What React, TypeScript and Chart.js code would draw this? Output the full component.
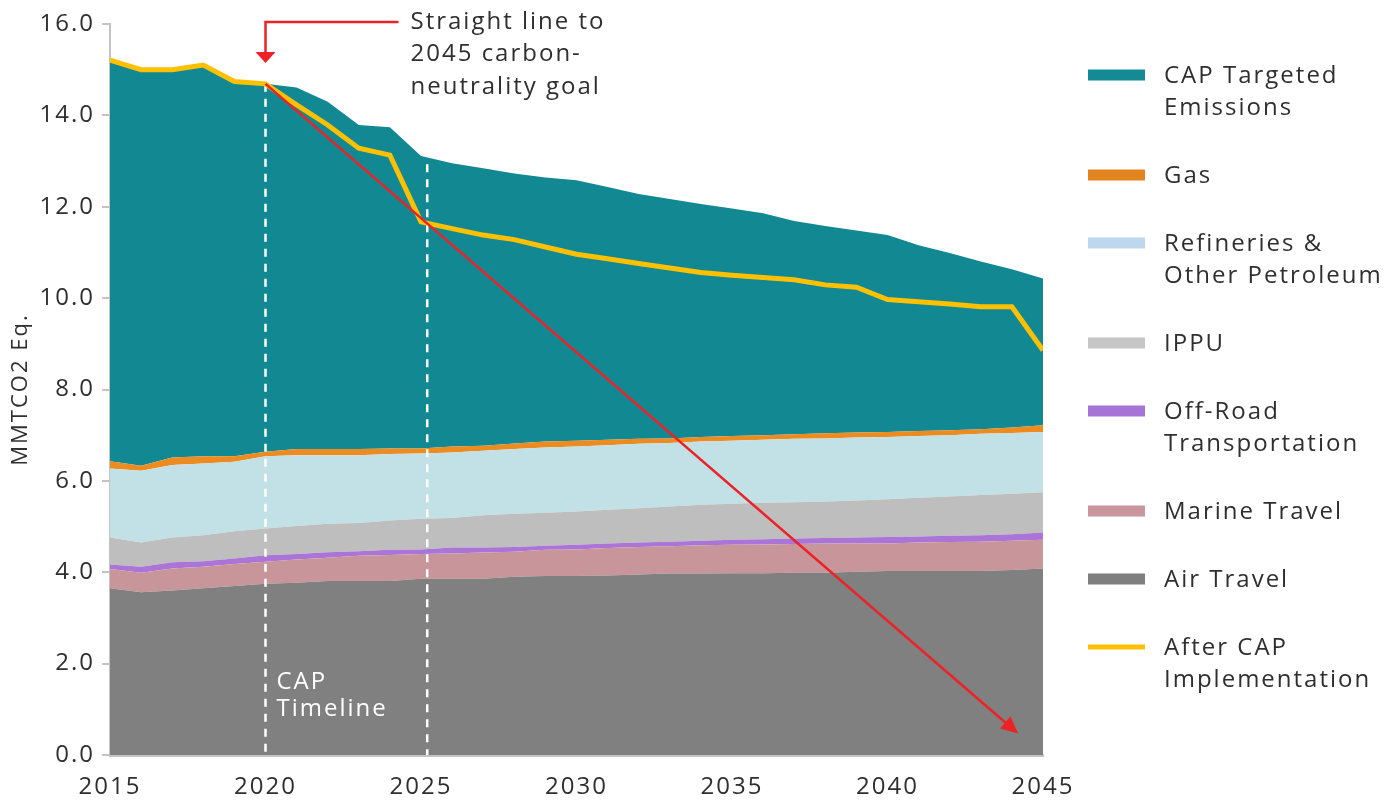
import React, { useEffect, useRef } from "react";
import { Chart, registerables } from "chart.js";

Chart.register(...registerables);

const years = [2015, 2016, 2017, 2018, 2019, 2020, 2021, 2022, 2023, 2024, 2025, 2026, 2027, 2028, 2029, 2030, 2031, 2032, 2033, 2034, 2035, 2036, 2037, 2038, 2039, 2040, 2041, 2042, 2043, 2044, 2045];

const airTravel = [3.65, 3.56, 3.60, 3.65, 3.70, 3.75, 3.77, 3.81, 3.81, 3.81, 3.86, 3.86, 3.86, 3.90, 3.92, 3.92, 3.93, 3.95, 3.97, 3.97, 3.98, 3.98, 3.99, 3.99, 4.01, 4.03, 4.03, 4.03, 4.03, 4.05, 4.08];
const marineTravel = [0.42, 0.43, 0.48, 0.47, 0.48, 0.48, 0.51, 0.51, 0.55, 0.57, 0.54, 0.55, 0.57, 0.55, 0.57, 0.58, 0.60, 0.60, 0.60, 0.62, 0.62, 0.63, 0.63, 0.64, 0.62, 0.60, 0.62, 0.63, 0.64, 0.64, 0.63];
const offRoad = [0.10, 0.13, 0.14, 0.12, 0.12, 0.14, 0.12, 0.12, 0.10, 0.11, 0.10, 0.13, 0.11, 0.10, 0.09, 0.10, 0.10, 0.10, 0.10, 0.10, 0.11, 0.11, 0.12, 0.12, 0.13, 0.14, 0.13, 0.14, 0.14, 0.14, 0.16];
const ippu = [0.59, 0.53, 0.54, 0.57, 0.60, 0.59, 0.61, 0.62, 0.62, 0.64, 0.67, 0.65, 0.71, 0.73, 0.72, 0.73, 0.74, 0.75, 0.77, 0.79, 0.79, 0.80, 0.79, 0.80, 0.81, 0.83, 0.85, 0.86, 0.88, 0.89, 0.88];
const refineries = [1.51, 1.57, 1.59, 1.57, 1.52, 1.58, 1.55, 1.50, 1.48, 1.46, 1.43, 1.43, 1.41, 1.42, 1.43, 1.42, 1.41, 1.41, 1.39, 1.38, 1.38, 1.38, 1.39, 1.38, 1.38, 1.36, 1.35, 1.34, 1.34, 1.33, 1.32];
const gas = [0.16, 0.11, 0.16, 0.16, 0.12, 0.10, 0.14, 0.14, 0.14, 0.12, 0.11, 0.13, 0.11, 0.12, 0.13, 0.13, 0.12, 0.11, 0.10, 0.10, 0.10, 0.10, 0.10, 0.11, 0.11, 0.11, 0.11, 0.11, 0.10, 0.12, 0.15];
const capTargeted = [8.74, 8.67, 8.49, 8.54, 8.20, 8.05, 7.91, 7.60, 7.09, 7.03, 6.40, 6.20, 6.07, 5.91, 5.78, 5.70, 5.53, 5.36, 5.24, 5.10, 4.98, 4.86, 4.67, 4.54, 4.42, 4.31, 4.07, 3.88, 3.67, 3.46, 3.21];
const afterCap = [15.21, 15.0, 15.0, 15.1, 14.74, 14.69, 14.23, 13.79, 13.28, 13.13, 11.67, 11.52, 11.38, 11.28, 11.12, 10.96, 10.86, 10.76, 10.66, 10.56, 10.50, 10.45, 10.40, 10.29, 10.24, 9.97, 9.92, 9.87, 9.81, 9.81, 8.86];

const yTicks = [0, 2, 4, 6, 8, 10, 12, 14, 16];
const xTicks = [2015, 2020, 2025, 2030, 2035, 2040, 2045];

const legendLabels = [
  ["CAP Targeted", "Emissions"],
  ["Gas"],
  ["Refineries &", "Other Petroleum"],
  ["IPPU"],
  ["Off-Road", "Transportation"],
  ["Marine Travel"],
  ["Air Travel"],
  ["After CAP", "Implementation"],
];
const legendColors = ["#138A94", "#E2851F", "#BDD7EE", "#C6C6C6", "#A673D6", "#C9969E", "#7F7F7F", "#FFC000"];

const timelineYears = [2020, 2025.2];
const timelineLabel = ["CAP", "Timeline"];
const goalStartYear = 2020;
const goalYear = 2045;
const goalValue = 0;
const calloutLines = ["Straight line to", "2045 carbon-", "neutrality goal"];

const FONT = "'Open Sans', sans-serif";
const TEXT = "#2f2f2f";

const areaSeries = [
  { label: "Air Travel", data: airTravel, color: "#808080" },
  { label: "Marine Travel", data: marineTravel, color: "#C8959B" },
  { label: "Off-Road Transportation", data: offRoad, color: "#AA75D6" },
  { label: "IPPU", data: ippu, color: "#BEBEBE" },
  { label: "Refineries & Other Petroleum", data: refineries, color: "#C1E1E7" },
  { label: "Gas", data: gas, color: "#EC8B20" },
  { label: "CAP Targeted Emissions", data: capTargeted, color: "#128893" },
];

const pts = (arr: number[]) => arr.map((v, i) => ({ x: years[i], y: v }));

const overlayPlugin = {
  id: "overlay",
  beforeDraw(chart: any) {
    chart.ctx.letterSpacing = "2px";
  },
  afterDatasetDraw(chart: any, args: any) {
    if (args.index !== 0) return;
    const { ctx, chartArea, scales } = chart;
    const xs = scales.x, ys = scales.y;
    ctx.save();
    ctx.strokeStyle = "#ffffff";
    ctx.lineWidth = 2.5;
    ctx.setLineDash([8, 7]);
    timelineYears.forEach((yr, k) => {
      const i = Math.min(years.length - 2, Math.floor(yr - years[0]));
      const t = yr - years[i];
      const tot = (j: number) => areaSeries.reduce((s, a) => s + a.data[j], 0);
      const topVal = tot(i) * (1 - t) + tot(i + 1) * t - (k === 0 ? 0 : 0.15);
      const px = xs.getPixelForValue(yr);
      ctx.beginPath();
      ctx.moveTo(px, ys.getPixelForValue(topVal));
      ctx.lineTo(px, chartArea.bottom);
      ctx.stroke();
    });
    ctx.setLineDash([]);
    ctx.fillStyle = "#ffffff";
    ctx.font = `24px ${FONT}`;
    ctx.textBaseline = "middle";
    ctx.textAlign = "left";
    const lx = xs.getPixelForValue(timelineYears[0]) + 11;
    timelineLabel.forEach((s, i) => ctx.fillText(s, lx, ys.getPixelForValue(1.6) + i * 27));
    ctx.restore();
  },
  afterDatasetsDraw(chart: any) {
    const { ctx, chartArea, scales } = chart;
    const xs = scales.x, ys = scales.y;
    ctx.save();
    // goal arrow
    const sIdx = years.indexOf(goalStartYear);
    const x0 = xs.getPixelForValue(goalStartYear), y0 = ys.getPixelForValue(afterCap[sIdx]);
    const x1f = xs.getPixelForValue(goalYear), y1f = ys.getPixelForValue(goalValue);
    const f = 0.968;
    const tx = x0 + (x1f - x0) * f, ty = y0 + (y1f - y0) * f;
    const ang = Math.atan2(ty - y0, tx - x0);
    const ah = 17, aw = 8;
    const bx = tx - ah * Math.cos(ang), by = ty - ah * Math.sin(ang);
    ctx.strokeStyle = "#EC2227";
    ctx.fillStyle = "#EC2227";
    ctx.lineWidth = 2.5;
    ctx.beginPath();
    ctx.moveTo(x0, y0);
    ctx.lineTo(bx + 2 * Math.cos(ang), by + 2 * Math.sin(ang));
    ctx.stroke();
    ctx.beginPath();
    ctx.moveTo(tx, ty);
    ctx.lineTo(bx + aw * Math.sin(ang), by - aw * Math.cos(ang));
    ctx.lineTo(bx - aw * Math.sin(ang), by + aw * Math.cos(ang));
    ctx.closePath();
    ctx.fill();
    // callout
    const top = chartArea.top;
    ctx.beginPath();
    ctx.moveTo(x0 + 133, top - 2);
    ctx.lineTo(x0, top - 2);
    ctx.lineTo(x0, top + 29);
    ctx.stroke();
    ctx.beginPath();
    ctx.moveTo(x0 - 10, top + 28);
    ctx.lineTo(x0 + 10, top + 28);
    ctx.lineTo(x0, top + 39);
    ctx.closePath();
    ctx.fill();
    ctx.fillStyle = TEXT;
    ctx.font = `24px ${FONT}`;
    ctx.textBaseline = "middle";
    ctx.textAlign = "left";
    calloutLines.forEach((s, i) => ctx.fillText(s, x0 + 145, top - 2 + i * 32.5));
    // legend
    let ly = 75;
    const rx = chartArea.right + 45;
    legendLabels.forEach((lines, i) => {
      ctx.fillStyle = legendColors[i];
      const h = i === legendLabels.length - 1 ? 5 : 11;
      ctx.fillRect(rx, ly - h / 2, 57, h);
      ctx.fillStyle = TEXT;
      lines.forEach((s, j) => ctx.fillText(s, rx + 76, ly + 1 + j * 32));
      ly += 68 + (lines.length - 1) * 32;
    });
    ctx.restore();
  },
};

export default function App() {
  const ref = useRef<HTMLCanvasElement | null>(null);
  useEffect(() => {
    document.body.style.margin = "0";
    const canvas = ref.current!;
    const datasets: any[] = areaSeries.map((s, i) => ({
      label: s.label,
      data: pts(s.data),
      backgroundColor: s.color,
      borderColor: s.color,
      borderWidth: 0,
      pointRadius: 0,
      fill: i === 0 ? "origin" : "-1",
      stack: "emissions",
      order: 1,
      tension: 0,
    }));
    datasets.push({
      label: "After CAP Implementation",
      data: pts(afterCap),
      borderColor: "#FFC000",
      backgroundColor: "#FFC000",
      borderWidth: 5,
      pointRadius: 0,
      fill: false,
      stack: "after",
      order: 0,
      tension: 0,
      borderJoinStyle: "miter",
    });
    const chart = new Chart(canvas, {
      type: "line",
      data: { datasets },
      plugins: [overlayPlugin],
      options: {
        animation: false,
        responsive: false,
        maintainAspectRatio: false,
        layout: { padding: { top: 24, right: 353, left: 0, bottom: 0 } },
        plugins: { legend: { display: false }, tooltip: { enabled: false } },
        scales: {
          x: {
            type: "linear",
            min: 2015,
            max: 2045,
            afterBuildTicks: (s: any) => { s.ticks = xTicks.map((v) => ({ value: v })); },
            afterFit: (s: any) => { s.height = 47; },
            ticks: {
              callback: (v: any) => String(v),
              font: { family: FONT, size: 24 },
              color: TEXT,
              padding: 18,
              maxRotation: 0,
            },
            grid: { display: false, drawTicks: false },
            border: { display: true, color: "#C4C4C4", width: 3 },
          },
          y: {
            type: "linear",
            stacked: true,
            min: 0,
            max: 16,
            afterBuildTicks: (s: any) => { s.ticks = yTicks.map((v) => ({ value: v })); },
            afterFit: (s: any) => { s.width = 110; },
            ticks: {
              callback: (v: any) => Number(v).toFixed(1),
              font: { family: FONT, size: 24 },
              color: TEXT,
              padding: 7,
            },
            grid: { drawOnChartArea: false, drawTicks: true, tickLength: 8, color: "#C4C4C4", lineWidth: 2 },
            border: { display: true, color: "#C4C4C4", width: 2 },
            title: {
              display: true,
              text: "MMTCO2 Eq.",
              font: { family: FONT, size: 22 },
              color: TEXT,
              padding: { top: 8, bottom: 0 },
            },
          },
        },
      },
    } as any);
    return () => chart.destroy();
  }, []);
  return (
    <div style={{ position: "absolute", left: 0, top: 0, width: 1396, height: 802 }}>
      <canvas ref={ref} width={1396} height={802} style={{ width: 1396, height: 802, display: "block" }} />
    </div>
  );
}
